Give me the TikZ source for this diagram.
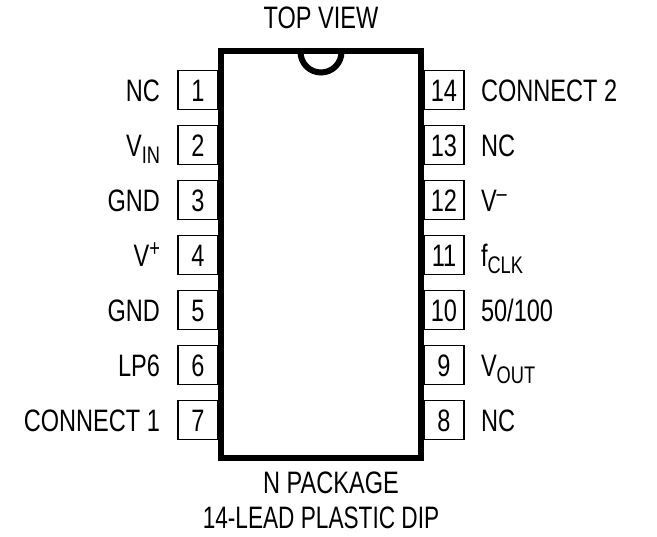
\documentclass[tikz,border=0pt]{standalone}
\usepackage{fontspec}
\setmainfont[FakeStretch=0.76]{Liberation Sans}
\newfontfamily\slimfont[FakeStretch=0.73]{Liberation Sans}
\usetikzlibrary{positioning, calc}
\newcommand{\lowtxt}[1]{\raisebox{-7pt}{\fontsize{24}{24}\selectfont #1}}
\newcommand{\hightxt}[1]{\raisebox{10pt}{\fontsize{24}{24}\selectfont #1}}

\begin{document}
\begin{tikzpicture}[
    x=1pt, y=1pt,
    font=\fontsize{31}{33}\selectfont,
    pinbox/.style={draw, line width=1.3pt, minimum width=40pt, minimum height=39pt, inner sep=0pt, outer sep=0pt, text height=23pt, text depth=0pt},
    pinname/.style={inner sep=0pt, outer sep=0pt},
    package/.style={draw, line width=6pt, fill=white, minimum width=200pt, minimum height=407pt, inner sep=0pt, outer sep=0pt}
  ]
    \useasboundingbox (0,0) rectangle (657,537);

    % Package outline
    \node[package] (body) at (321,282.5) {};
    \draw[line width=6pt] ($(body.north)+(-20.5,-1)$) arc[start angle=180, end angle=360, radius=20.5pt];

    % Left pins
    \node[pinbox, anchor=east] (pin1) at ($(body.north west)+(-3,-39)$) {1};
    \node[pinbox, below=16pt of pin1] (pin2) {2};
    \node[pinbox, below=16pt of pin2] (pin3) {3};
    \node[pinbox, below=16pt of pin3] (pin4) {4};
    \node[pinbox, below=16pt of pin4] (pin5) {5};
    \node[pinbox, below=16pt of pin5] (pin6) {6};
    \node[pinbox, below=16pt of pin6] (pin7) {7};

    % Right pins
    \node[pinbox, anchor=west] (pin14) at ($(body.north east)+(3,-39)$) {14};
    \node[pinbox, below=16pt of pin14] (pin13) {13};
    \node[pinbox, below=16pt of pin13] (pin12) {12};
    \node[pinbox, below=16pt of pin12] (pin11) {11};
    \node[pinbox, below=16pt of pin11] (pin10) {10};
    \node[pinbox, below=16pt of pin10] (pin9) {9};
    \node[pinbox, below=16pt of pin9] (pin8) {8};

    % Left names
    \node[pinname, base left=18pt of pin1] (nc1) {NC};
    \node[pinname, base left=18pt of pin2] (vin) {V\lowtxt{IN}};
    \node[pinname, base left=18pt of pin3] (gnd1) {GND};
    \node[pinname, base left=18pt of pin4] (vplus) {V\hightxt{+}};
    \node[pinname, base left=18pt of pin5] (gnd2) {GND};
    \node[pinname, base left=18pt of pin6] (lp6) {LP6};
    \node[pinname, base left=18pt of pin7] (conn1) {CONNECT 1};

    % Right names
    \node[pinname, base right=17pt of pin14] (conn2) {CONNECT 2};
    \node[pinname, base right=17pt of pin13] (nc2) {NC};
    \node[pinname, base right=17pt of pin12] (vminus) {V\hightxt{--}};
    \node[pinname, base right=17pt of pin11] (fclk) {f\lowtxt{CLK}};
    \node[pinname, base right=17pt of pin10] (ratio) {50/100};
    \node[pinname, base right=17pt of pin9] (vout) {V\lowtxt{OUT}};
    \node[pinname, base right=17pt of pin8] (nc3) {NC};

    % Captions
    \node[pinname, above=22pt of body] (topview) {TOP VIEW};
    \node[pinname, below=14pt of body, xshift=10pt] (npackage) {N PACKAGE};
    \node[pinname, font=\fontsize{31}{33}\slimfont, below=10pt of body, yshift=-39pt] (dip) {14-LEAD PLASTIC DIP};
  \end{tikzpicture}
\end{document}
